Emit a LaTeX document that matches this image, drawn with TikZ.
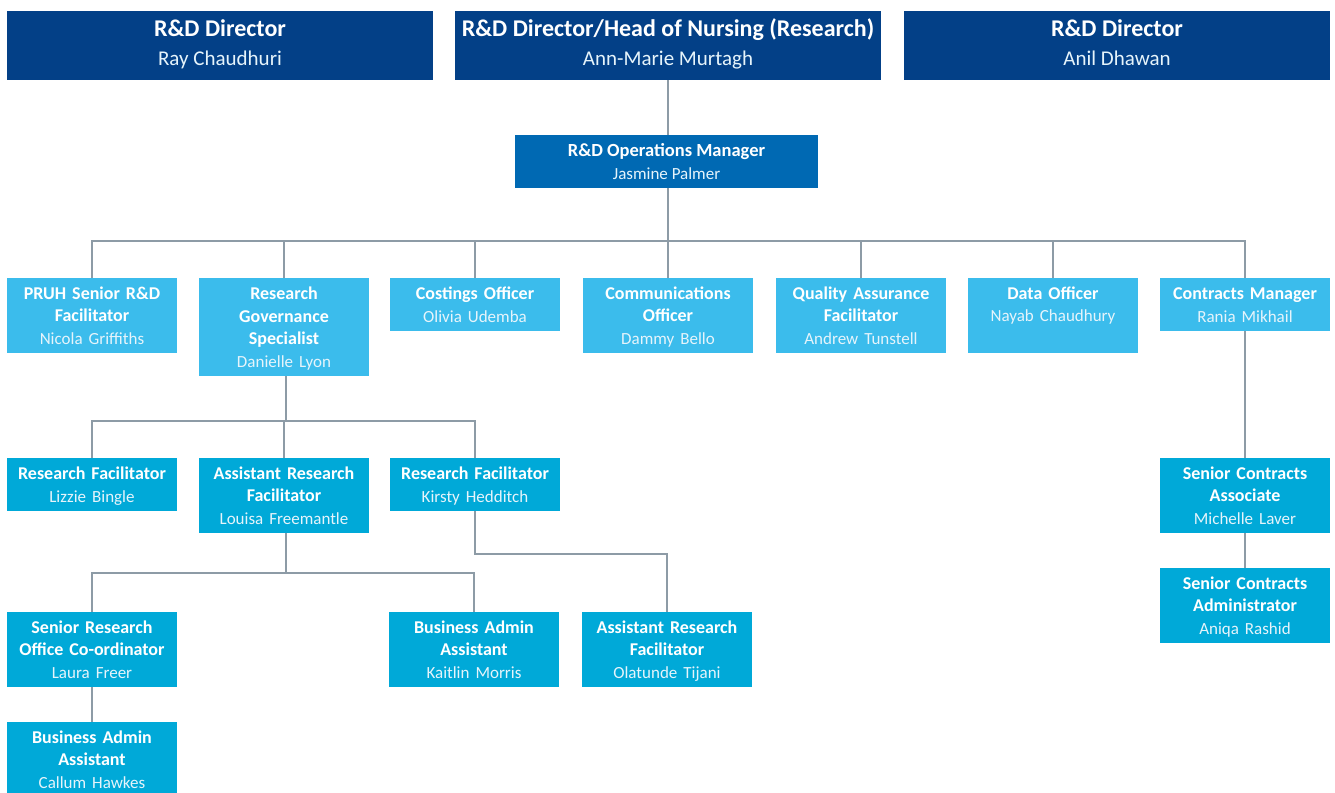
\documentclass[tikz,border=0pt]{standalone}
\usepackage{fontspec}
\setmainfont{Carlito}
\usetikzlibrary{calc}
\definecolor{dirblue}{HTML}{034087}
\definecolor{opsblue}{HTML}{0069B3}
\definecolor{lightblue}{HTML}{3BBCEC}
\definecolor{midblue}{HTML}{00A9D8}
\definecolor{linegray}{HTML}{8D9BA6}
\definecolor{namecol}{HTML}{E6F4FB}
\newcommand{\sr}{\rule[-4.5pt]{0pt}{21.5pt}}
\newcommand{\dsr}{\rule[-6pt]{0pt}{23.4pt}}
\newcommand{\nm}[1]{{\color{namecol}\fontsize{17}{22.5}\selectfont\sr #1}}
\newcommand{\dnm}[1]{{\color{namecol}\fontsize{21}{29}\selectfont\dsr #1}}
\newcommand{\ft}[1]{\sr\textbf{#1}}
\begin{document}
\begin{tikzpicture}[x=1pt,y=-1pt,
  box/.style={rectangle,anchor=north west,inner sep=0pt,outer sep=0pt,align=center,text=white},
  dirbox/.style={box,fill=dirblue,minimum width=426pt,minimum height=69pt,font=\fontsize{24}{29}\selectfont},
  opsbox/.style={box,fill=opsblue,minimum width=303pt,minimum height=53pt,font=\fontsize{18.5}{23}\selectfont},
  lbox/.style={box,fill=lightblue,minimum width=170pt,text width=168pt,font=\fontsize{18}{22.5}\selectfont},
  mbox/.style={box,fill=midblue,minimum width=170pt,text width=168pt,font=\fontsize{18}{22.5}\selectfont},
  conn/.style={draw=linegray,line width=2.5pt}]
\useasboundingbox (0,0) rectangle (1335,792);
\clip (0,0) rectangle (1335,792);
% top directors
\node[dirbox] (d1) at (7,11) {\dsr\textbf{R\&D Director}\\\dnm{Ray Chaudhuri}};
\node[dirbox] (d2) at (455,11) {\dsr\textbf{R\&D Director/Head of Nursing (Research)}\\\dnm{Ann-Marie Murtagh}};
\node[dirbox] (d3) at (904,11) {\dsr\textbf{R\&D Director}\\\dnm{Anil Dhawan}};
% ops manager
\node[opsbox] (ops) at (515,135) {\ft{R\&D Operations Manager}\\\nm{Jasmine Palmer}};
% row 2
\node[lbox,minimum height=75pt] (pruh) at (7,278) {\ft{PRUH Senior R\&D}\\\textbf{Facilitator}\\\nm{Nicola Griffiths}};
\node[lbox,minimum height=98pt] (rgs) at (199,278) {\ft{Research}\\\textbf{Governance}\\\textbf{Specialist}\\\nm{Danielle Lyon}};
\node[lbox,minimum height=53pt] (cost) at (390,278) {\ft{Costings Officer}\\\nm{Olivia Udemba}};
\node[lbox,minimum height=75pt] (comm) at (583,278) {\ft{Communications}\\\textbf{Officer}\\\nm{Dammy Bello}};
\node[lbox,minimum height=75pt] (qa) at (776,278) {\ft{Quality Assurance}\\\textbf{Facilitator}\\\nm{Andrew Tunstell}};
\node[lbox,minimum height=75pt] (data) at (968,278) {\ft{Data Officer}\\\nm{Nayab Chaudhury}\\\sr};
\node[lbox,minimum height=53pt] (contr) at (1160,278) {\ft{Contracts Manager}\\\nm{Rania Mikhail}};
% row 3
\node[mbox,minimum height=53pt] (lizzie) at (7,458) {\ft{Research Facilitator}\\\nm{Lizzie Bingle}};
\node[mbox,minimum height=75pt] (louisa) at (199,458) {\ft{Assistant Research}\\\textbf{Facilitator}\\\nm{Louisa Freemantle}};
\node[mbox,minimum height=53pt] (kirsty) at (390,458) {\ft{Research Facilitator}\\\nm{Kirsty Hedditch}};
\node[mbox,minimum height=75pt] (michelle) at (1160,458) {\ft{Senior Contracts}\\\textbf{Associate}\\\nm{Michelle Laver}};
\node[mbox,minimum height=75pt] (aniqa) at (1160,568) {\ft{Senior Contracts}\\\textbf{Administrator}\\\nm{Aniqa Rashid}};
% row 4
\node[mbox,minimum height=75pt] (laura) at (7,612) {\ft{Senior Research}\\\textbf{Office Co-ordinator}\\\nm{Laura Freer}};
\node[mbox,minimum height=75pt] (kaitlin) at (389,612) {\ft{Business Admin}\\\textbf{Assistant}\\\nm{Kaitlin Morris}};
\node[mbox,minimum height=75pt] (olat) at (582,612) {\ft{Assistant Research}\\\textbf{Facilitator}\\\nm{Olatunde Tijani}};
% row 5
\node[mbox,minimum height=75pt] (callum) at (7,722) {\ft{Business Admin}\\\textbf{Assistant}\\\nm{Callum Hawkes}};
% connectors
\draw[conn] (d2.south) -- (d2.south |- ops.north);
\coordinate (bus1) at (668,241);
\draw[conn] (bus1 |- ops.south) -- (bus1);
\foreach \c in {pruh,rgs,cost,comm,qa,data,contr} \draw[conn] (\c.north) |- (bus1);
\coordinate (bus2) at (286,421);
\draw[conn] (bus2 |- rgs.south) -- (bus2);
\foreach \c in {lizzie,louisa,kirsty} \draw[conn] (\c.north) |- (bus2);
\coordinate (bus3) at (286,573);
\draw[conn] (bus3 |- louisa.south) -- (bus3);
\foreach \c in {laura,kaitlin} \draw[conn] (\c.north) |- (bus3);
\coordinate (kb) at (475,554);
\draw[conn] (kirsty.south) -- (kb) -| (olat.north);
\draw[conn] (contr.south) -- (michelle.north);
\draw[conn] (michelle.south) -- (aniqa.north);
\draw[conn] (laura.south) -- (callum.north);
\end{tikzpicture}
\end{document}
